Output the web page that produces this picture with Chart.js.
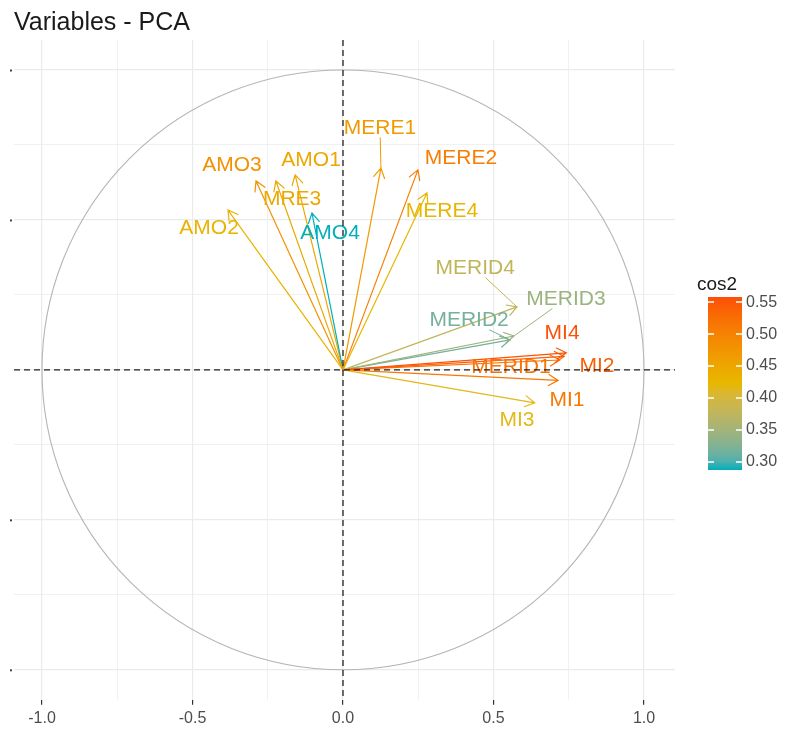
<!DOCTYPE html>
<html lang="en">
<head>
    <meta charset="UTF-8">
    <title>Variables - PCA</title>
    <script src="https://cdn.jsdelivr.net/npm/chart.js"></script>
    <style>
        body {
            margin: 0;
            background-color: white;
        }
        .chart-container {
            width: 787px;
            height: 733px;
        }
    </style>
</head>
<body>
    <div class="chart-container">
        <canvas id="pcaChart"></canvas>
    </div>

    <script>
        // Variable coordinates
        const varNames = ['AMO1', 'AMO2', 'AMO3', 'AMO4', 'MRE3', 'MERE1', 'MERE2', 'MERE4',
                          'MERID1', 'MERID2', 'MERID3', 'MERID4', 'MI1', 'MI2', 'MI3', 'MI4'];
        const dim1 = [-0.159, -0.382, -0.289, -0.103, -0.223, 0.126, 0.249, 0.279,
                      0.720, 0.555, 0.568, 0.578, 0.715, 0.735, 0.637, 0.742];
        const dim2 = [0.650, 0.533, 0.630, 0.523, 0.630, 0.673, 0.667, 0.590,
                      0.033, 0.100, 0.113, 0.210, -0.035, 0.045, -0.110, 0.057];
        const cos2 = [0.448, 0.430, 0.480, 0.284, 0.447, 0.469, 0.507, 0.426,
                      0.520, 0.318, 0.345, 0.378, 0.512, 0.542, 0.418, 0.554];
        // where the (repelled) labels sit, in axis units
        const labelX = [-0.106, -0.445, -0.369, -0.043, -0.169, 0.123, 0.392, 0.329,
                        0.558, 0.419, 0.741, 0.439, 0.744, 0.844, 0.578, 0.728];
        const labelY = [0.700, 0.473, 0.683, 0.457, 0.570, 0.807, 0.707, 0.530,
                        0.010, 0.167, 0.237, 0.340, -0.100, 0.013, -0.167, 0.123];
        const linkedLabels = ['MERE1', 'MERID2', 'MERID3', 'MERID4'];

        const xTicks = [-1, -0.75, -0.5, -0.25, 0, 0.25, 0.5, 0.75, 1];
        const yTicks = [-1, -0.75, -0.5, -0.25, 0, 0.25, 0.5, 0.75, 1];
        const cosTicks = [0.30, 0.35, 0.40, 0.45, 0.50, 0.55];
        const cosMin = 0.2875;
        const cosMax = 0.558;
        const gradCols = ['#00AFBB', '#E7B800', '#FC4E07'];

        // colour ramp in CIELAB, like ggplot's gradientn
        function hexToRgb(h) {
            return [parseInt(h.slice(1, 3), 16), parseInt(h.slice(3, 5), 16), parseInt(h.slice(5, 7), 16)];
        }
        function rgbToLab(c) {
            const lin = c.map(v => { v /= 255; return v <= 0.04045 ? v / 12.92 : Math.pow((v + 0.055) / 1.055, 2.4); });
            let X = (lin[0] * 0.4124 + lin[1] * 0.3576 + lin[2] * 0.1805) / 0.95047;
            let Y = (lin[0] * 0.2126 + lin[1] * 0.7152 + lin[2] * 0.0722);
            let Z = (lin[0] * 0.0193 + lin[1] * 0.1192 + lin[2] * 0.9505) / 1.08883;
            const f = t => t > 0.008856 ? Math.cbrt(t) : 7.787 * t + 16 / 116;
            X = f(X); Y = f(Y); Z = f(Z);
            return [116 * Y - 16, 500 * (X - Y), 200 * (Y - Z)];
        }
        function labToRgb(l) {
            let Y = (l[0] + 16) / 116, X = l[1] / 500 + Y, Z = Y - l[2] / 200;
            const fi = t => t * t * t > 0.008856 ? t * t * t : (t - 16 / 116) / 7.787;
            X = fi(X) * 0.95047; Y = fi(Y); Z = fi(Z) * 1.08883;
            let r = X * 3.2406 + Y * -1.5372 + Z * -0.4986;
            let g = X * -0.9689 + Y * 1.8758 + Z * 0.0415;
            let b = X * 0.0557 + Y * -0.2040 + Z * 1.0570;
            return [r, g, b].map(v => {
                v = v > 0.0031308 ? 1.055 * Math.pow(v, 1 / 2.4) - 0.055 : 12.92 * v;
                return Math.round(Math.max(0, Math.min(1, v)) * 255);
            });
        }
        const gradLab = gradCols.map(h => rgbToLab(hexToRgb(h)));

        function cosColor(v) {
            let t = (v - cosMin) / (cosMax - cosMin);
            t = Math.max(0, Math.min(1, t));
            const seg = t < 0.5 ? 0 : 1;
            const f = (t - seg * 0.5) / 0.5;
            const a = gradLab[seg];
            const b = gradLab[seg + 1];
            const c = labToRgb(a.map((v0, i) => v0 + (b[i] - v0) * f));
            return `rgb(${c[0]}, ${c[1]}, ${c[2]})`;
        }

        const isMajor = v => Math.abs(v * 2 - Math.round(v * 2)) < 1e-6;

        // circle, arrows, labels, dashed axes and colour bar
        const pcaPlugin = {
            id: 'pcaPlugin',
            afterDatasetsDraw(chart) {
                const ctx = chart.ctx;
                const xs = chart.scales.x;
                const ys = chart.scales.y;
                const area = chart.chartArea;
                const x0 = xs.getPixelForValue(0);
                const y0 = ys.getPixelForValue(0);

                ctx.save();
                // correlation circle
                const rx = xs.getPixelForValue(1) - x0;
                const ry = y0 - ys.getPixelForValue(1);
                ctx.strokeStyle = '#B5B5B5';
                ctx.lineWidth = 1.1;
                ctx.beginPath();
                ctx.ellipse(x0, y0, rx, ry, 0, 0, Math.PI * 2);
                ctx.stroke();

                // arrows
                ctx.lineWidth = 1.2;
                ctx.lineCap = 'round';
                varNames.forEach((name, i) => {
                    const px = xs.getPixelForValue(dim1[i]);
                    const py = ys.getPixelForValue(dim2[i]);
                    const col = cosColor(cos2[i]);
                    ctx.strokeStyle = col;
                    ctx.beginPath();
                    ctx.moveTo(x0, y0);
                    ctx.lineTo(px, py);
                    const ang = Math.atan2(py - y0, px - x0);
                    const len = 11;
                    ctx.moveTo(px - len * Math.cos(ang - Math.PI / 6), py - len * Math.sin(ang - Math.PI / 6));
                    ctx.lineTo(px, py);
                    ctx.lineTo(px - len * Math.cos(ang + Math.PI / 6), py - len * Math.sin(ang + Math.PI / 6));
                    ctx.stroke();
                });

                // labels
                ctx.font = '21px "Liberation Sans", Arial, sans-serif';
                ctx.textAlign = 'center';
                ctx.textBaseline = 'middle';
                varNames.forEach((name, i) => {
                    const cx = xs.getPixelForValue(labelX[i]);
                    const cy = ys.getPixelForValue(labelY[i]);
                    const col = cosColor(cos2[i]);
                    if (linkedLabels.includes(name)) {
                        const px = xs.getPixelForValue(dim1[i]);
                        const py = ys.getPixelForValue(dim2[i]);
                        const w = ctx.measureText(name).width / 2 + 2;
                        const h = 10;
                        const dx = px - cx, dy = py - cy;
                        const t = Math.min(dx !== 0 ? w / Math.abs(dx) : 9, dy !== 0 ? h / Math.abs(dy) : 9);
                        if (t < 1) {
                            ctx.strokeStyle = col;
                            ctx.lineWidth = 1;
                            ctx.beginPath();
                            ctx.moveTo(cx + dx * t, cy + dy * t);
                            ctx.lineTo(px, py);
                            ctx.stroke();
                        }
                    }
                    ctx.fillStyle = col;
                    ctx.fillText(name, cx, cy);
                });

                // dashed reference lines
                ctx.strokeStyle = '#222222';
                ctx.lineWidth = 1.3;
                ctx.lineCap = 'butt';
                ctx.setLineDash([6, 4]);
                ctx.beginPath();
                ctx.moveTo(area.left, y0);
                ctx.lineTo(area.right, y0);
                ctx.moveTo(x0, area.top);
                ctx.lineTo(x0, area.bottom);
                ctx.stroke();
                ctx.setLineDash([]);

                // clipped y tick labels leave only a dot at the edge
                ctx.fillStyle = '#444444';
                yTicks.filter(isMajor).forEach(v => {
                    if (v === 0) return;
                    ctx.fillRect(area.left - 4, ys.getPixelForValue(v) - 0.5, 2, 2);
                });

                // colour bar legend
                const barL = area.right + 33;
                const barW = 34;
                const barT = 297;
                const barB = 470;
                const grad = ctx.createLinearGradient(0, barB, 0, barT);
                for (let k = 0; k <= 20; k++) {
                    const v = cosMin + (cosMax - cosMin) * k / 20;
                    grad.addColorStop(k / 20, cosColor(v));
                }
                ctx.fillStyle = grad;
                ctx.fillRect(barL, barT, barW, barB - barT);

                ctx.fillStyle = '#1A1A1A';
                ctx.font = '19px "Liberation Sans", Arial, sans-serif';
                ctx.textAlign = 'left';
                ctx.textBaseline = 'alphabetic';
                ctx.fillText('cos2', barL - 11, 290);

                ctx.font = '16px "Liberation Sans", Arial, sans-serif';
                ctx.textBaseline = 'middle';
                cosTicks.forEach(v => {
                    const yy = barB - (v - cosMin) / (cosMax - cosMin) * (barB - barT);
                    ctx.strokeStyle = 'white';
                    ctx.lineWidth = 1.5;
                    ctx.beginPath();
                    ctx.moveTo(barL, yy);
                    ctx.lineTo(barL + 6, yy);
                    ctx.moveTo(barL + barW - 6, yy);
                    ctx.lineTo(barL + barW, yy);
                    ctx.stroke();
                    ctx.fillStyle = '#4D4D4D';
                    ctx.fillText(v.toFixed(2), barL + barW + 4, yy);
                });
                ctx.restore();
            }
        };

        function initChart() {
            const ctx = document.getElementById('pcaChart').getContext('2d');
            new Chart(ctx, {
                type: 'scatter',
                data: {
                    datasets: [{
                        label: 'variables',
                        data: varNames.map((n, i) => ({ x: dim1[i], y: dim2[i] })),
                        pointRadius: 0,
                        pointHoverRadius: 0
                    }]
                },
                options: {
                    responsive: true,
                    maintainAspectRatio: false,
                    animation: false,
                    layout: {
                        padding: { left: 14, right: 112, top: 0, bottom: 1 }
                    },
                    plugins: {
                        legend: { display: false },
                        tooltip: { enabled: false },
                        title: {
                            display: true,
                            text: 'Variables - PCA',
                            align: 'start',
                            color: '#1A1A1A',
                            font: { family: '"Liberation Sans", Arial, sans-serif', size: 25, weight: 'normal' },
                            padding: { top: 8, bottom: 2 }
                        }
                    },
                    scales: {
                        x: {
                            type: 'linear',
                            min: -1.093,
                            max: 1.103,
                            afterBuildTicks: scale => { scale.ticks = xTicks.map(v => ({ value: v })); },
                            border: { display: false },
                            grid: {
                                color: '#EBEBEB',
                                lineWidth: c => (c.tick && isMajor(c.tick.value)) ? 1.2 : 0.7,
                                tickLength: 5,
                                tickColor: c => (c.tick && isMajor(c.tick.value)) ? '#333333' : 'rgba(0,0,0,0)',
                                tickWidth: 1.2
                            },
                            ticks: {
                                autoSkip: false,
                                maxRotation: 0,
                                padding: 4,
                                color: '#4D4D4D',
                                font: { family: '"Liberation Sans", Arial, sans-serif', size: 16 },
                                callback: v => isMajor(v) ? v.toFixed(1) : ''
                            }
                        },
                        y: {
                            type: 'linear',
                            min: -1.1,
                            max: 1.1,
                            afterBuildTicks: scale => { scale.ticks = yTicks.map(v => ({ value: v })); },
                            border: { display: false },
                            grid: {
                                color: '#EBEBEB',
                                lineWidth: c => (c.tick && isMajor(c.tick.value)) ? 1.2 : 0.7,
                                drawTicks: false
                            },
                            ticks: { display: false }
                        }
                    }
                },
                plugins: [pcaPlugin]
            });
        }

        document.addEventListener('DOMContentLoaded', initChart);
    </script>
</body>
</html>
